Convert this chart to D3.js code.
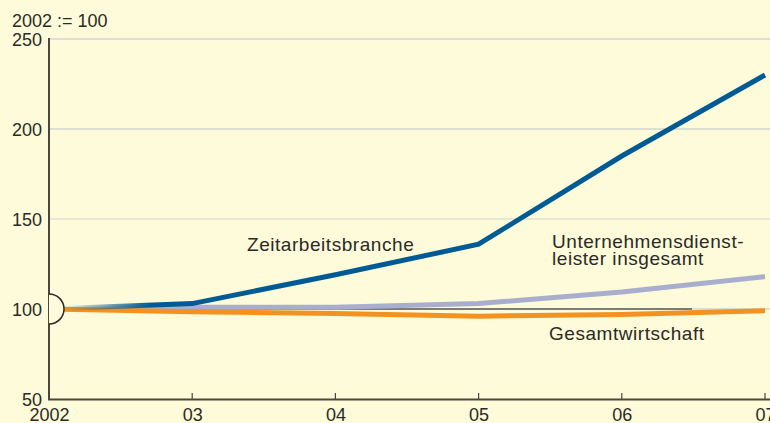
<!DOCTYPE html>
<html><head><meta charset="utf-8">
<script src="https://cdn.jsdelivr.net/npm/d3@7"></script>
<style>
html,body{margin:0;padding:0;background:#fdfbd9;}
svg{display:block;font-family:"Liberation Sans",Arial,sans-serif;}
</style></head>
<body>
<script>
const years = ["2002","03","04","05","06","07"];
const zeitarbeit = [100, 103, 119, 136, 185, 230];
const dienstleister = [100, 101, 101, 103, 109.5, 118];
const gesamt = [100, 98.5, 97.5, 96, 97, 99];
const yTicks = [50, 100, 150, 200, 250];
const labelZeit = "Zeitarbeitsbranche";
const labelDienst = ["Unternehmensdienst-", "leister insgesamt"];
const labelGesamt = "Gesamtwirtschaft";

const W = 770, H = 423, FS = 18;
const svg = d3.select("body").append("svg").attr("width", W).attr("height", H);
svg.append("rect").attr("width", W).attr("height", H).attr("fill", "#fdfbd9");

const x = d3.scalePoint().domain(years).range([49, 765]);
const y = d3.scaleLinear().domain([50, 250]).range([399, 39]);

// grid
svg.append("g").selectAll("line").data(yTicks.filter(d => d > 50)).join("line")
  .attr("x1", 49).attr("x2", W).attr("y1", d => y(d)).attr("y2", d => y(d))
  .attr("stroke", d => d === 150 ? "#d6d6cc" : "#bfc3cc").attr("stroke-width", 1.2);

// y labels
svg.append("g").selectAll("text").data(yTicks).join("text")
  .attr("x", 42).attr("y", d => y(d) + 6.5).attr("text-anchor", "end")
  .attr("font-size", FS).attr("fill", "#2b2a28").text(d => d);

svg.append("text").attr("x", 12).attr("y", 27).attr("font-size", FS).attr("fill", "#2b2a28").text("2002 := 100");

// x axis
const xAxis = d3.axisBottom(x).tickSize(0).tickFormat(d => d);
const gx = svg.append("g").attr("transform", "translate(0,399)").call(xAxis);
gx.select(".domain").remove();
gx.selectAll("text").attr("font-size", FS).attr("fill", "#2b2a28").attr("dy", 0).attr("y", 22)
  .attr("font-family", "Liberation Sans, Arial, sans-serif");
svg.append("line").attr("x1", 48).attr("x2", W).attr("y1", 399.5).attr("y2", 399.5)
  .attr("stroke", "#4a463e").attr("stroke-width", 2);
svg.append("g").selectAll("line").data(years.slice(1)).join("line")
  .attr("x1", d => x(d)).attr("x2", d => x(d)).attr("y1", 399).attr("y2", 393)
  .attr("stroke", "#4a463e").attr("stroke-width", 1.2);
svg.append("line").attr("x1", 49).attr("x2", 49).attr("y1", 38).attr("y2", 400)
  .attr("stroke", "#4a463e").attr("stroke-width", 2);

// gradients
const defs = svg.append("defs");
function grad(id, color) {
  const g = defs.append("linearGradient").attr("id", id).attr("gradientUnits", "userSpaceOnUse")
    .attr("x1", 64).attr("x2", 150).attr("y1", 0).attr("y2", 0);
  g.append("stop").attr("offset", 0).attr("stop-color", color).attr("stop-opacity", 0);
  g.append("stop").attr("offset", 1).attr("stop-color", color).attr("stop-opacity", 1);
}
grad("gBlue", "#005b95");
grad("gGray", "#a9aecf");

// reference line at 100
svg.append("line").attr("x1", x("2002")).attr("x2", 692).attr("y1", y(100)).attr("y2", y(100))
  .attr("stroke", "#1a1a1a").attr("stroke-width", 1);

const line = d3.line().x((d, i) => x(years[i])).y(d => y(d));
svg.append("path").datum(dienstleister).attr("d", line).attr("fill", "none")
  .attr("stroke", "url(#gGray)").attr("stroke-width", 5);
svg.append("path").datum(gesamt).attr("d", line).attr("fill", "none")
  .attr("stroke", "#f39220").attr("stroke-width", 5);
svg.append("path").datum(zeitarbeit).attr("d", line).attr("fill", "none")
  .attr("stroke", "url(#gBlue)").attr("stroke-width", 5);

// break marker
const r = 15, cy = y(100);
svg.append("path").attr("d", `M49,${cy - r} A${r},${r} 0 0 1 49,${cy + r} Z`)
  .attr("fill", "#fdfbd9").attr("stroke", "none");
svg.append("path").attr("d", `M49,${cy - r} A${r},${r} 0 0 1 49,${cy + r}`)
  .attr("fill", "none").attr("stroke", "#2b2a28").attr("stroke-width", 1.5);

// labels
const lab = svg.append("g").attr("font-size", 19).attr("letter-spacing", 0.55).attr("fill", "#2b2a28");
lab.append("text").attr("x", 247).attr("y", 251).text(labelZeit);
lab.append("text").attr("x", 552).attr("y", 248).text(labelDienst[0]);
lab.append("text").attr("x", 552).attr("y", 265).text(labelDienst[1]);
lab.append("text").attr("x", 549).attr("y", 340).text(labelGesamt);
</script>
</body></html>
